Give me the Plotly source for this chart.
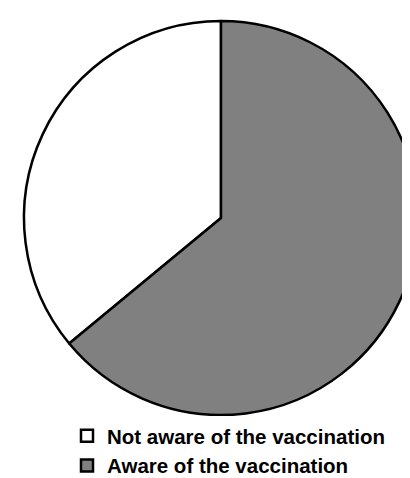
import plotly.graph_objects as go

labels = ["Not aware of the vaccination", "Aware of the vaccination"]
values = [36, 64]
colors = ["#ffffff", "#808080"]

W, H = 410, 478
start_angle = 360 * values[1] / sum(values)

fig = go.Figure(go.Pie(
    labels=labels,
    values=values,
    sort=False,
    direction="clockwise",
    rotation=start_angle,
    textinfo="none",
    marker=dict(colors=colors, line=dict(color="#000000", width=2.5)),
    domain=dict(x=[16 / W, 1], y=[1 - 408 / H, 1 - 12 / H]),
))

fig.update_layout(
    width=W,
    height=H,
    margin=dict(l=0, r=0, t=0, b=0, autoexpand=False),
    paper_bgcolor="white",
    plot_bgcolor="white",
    showlegend=True,
    legend=dict(
        x=59 / W, y=1 - 408 / H, xanchor="left", yanchor="top",
        font=dict(family="Liberation Sans", size=20.5, color="#000000", weight="bold"),
        traceorder="normal",
    ),
)

fig.write_html("out.html")
